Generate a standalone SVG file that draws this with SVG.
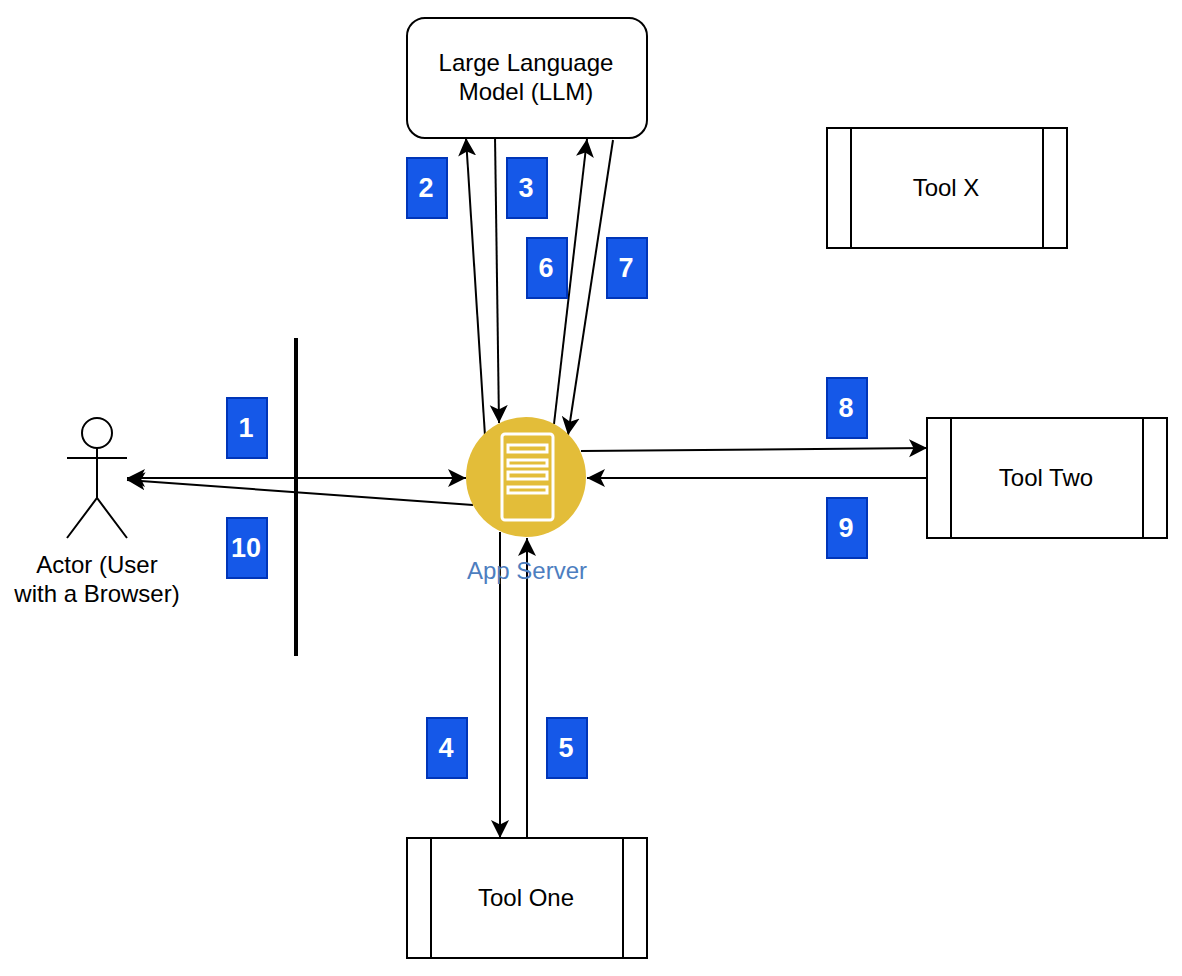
<svg xmlns="http://www.w3.org/2000/svg" width="1182" height="976" viewBox="0 0 1182 976">
<style>
text{font-family:"Liberation Sans",Arial,sans-serif;font-size:24px;fill:#000;text-anchor:middle}
.box{fill:#fff;stroke:#000;stroke-width:2}
.badge rect{fill:#1558e8;stroke:#0035b8;stroke-width:2}
.badge text{font-weight:bold;fill:#fff;font-size:27px}
.c{fill:none;stroke:#000;stroke-width:2;marker-end:url(#a)}
.s{fill:none;stroke:#000;stroke-width:2}
</style>
<defs>
<marker id="a" markerUnits="userSpaceOnUse" markerWidth="22" markerHeight="22" refX="18" refY="10" orient="auto">
<path d="M0 1 L18 10 L0 19 L4.500 10Z" fill="#000"/>
</marker>
</defs>
<rect width="1182" height="976" fill="#fff"/>
<g id="connectors">
<line x1="296" y1="338" x2="296" y2="656" stroke="#000" stroke-width="4"/>
<path class="c" d="M127 478H466"/>
<path class="c" d="M296 478H127"/>
<path class="c" d="M473 505L127 480"/>
<path class="c" d="M485 436L466 138"/>
<path class="c" d="M495 136L499 423"/>
<path class="c" d="M554 424L587 139"/>
<path class="c" d="M613 140L568 435"/>
<path class="c" d="M581 451L927 448"/>
<path class="c" d="M927 478H587"/>
<path class="c" d="M500 532V838"/>
<path class="c" d="M527 838V538"/>
</g>
<g id="llm"><rect class="box" x="407" y="18" width="240" height="120" rx="18"/><text x="526" y="71">Large Language</text><text x="526" y="100">Model (LLM)</text></g>
<g id="toolx"><rect class="box" x="827" y="128" width="240" height="120"/><path class="s" d="M851 128V248M1043 128V248"/><text x="946" y="196">Tool X</text></g>
<g id="tooltwo"><rect class="box" x="927" y="418" width="240" height="120"/><path class="s" d="M951 418V538M1143 418V538"/><text x="1046" y="486">Tool Two</text></g>
<g id="toolone"><rect class="box" x="407" y="838" width="240" height="120"/><path class="s" d="M431 838V958M623 838V958"/><text x="526" y="906">Tool One</text></g>
<g id="actor">
<circle cx="97" cy="433" r="15" fill="#fff" stroke="#000" stroke-width="2"/>
<path d="M97 448V498M67 458H127M67 538L97 498L127 538" fill="none" stroke="#000" stroke-width="2"/>
</g>
<g id="actor-label"><text x="97" y="573">Actor (User</text><text x="97" y="602">with a Browser)</text></g>
<g id="appserver">
<circle cx="526" cy="477" r="60" fill="#e3bd39"/>
<rect x="502" y="434" width="51" height="86" rx="3" fill="none" stroke="#fff" stroke-width="3"/>
<g fill="#e3bd39" stroke="#fff" stroke-width="3">
<rect x="508" y="445" width="39" height="7"/>
<rect x="508" y="460" width="39" height="6"/>
<rect x="508" y="472" width="39" height="7"/>
<rect x="508" y="487" width="39" height="6"/>
</g>
<text x="527" y="579" style="fill:#4d7ebf">App Server</text>
</g>
<g class="badge" id="b1"><rect x="227" y="398" width="40" height="60"/><text x="246" y="437">1</text></g>
<g class="badge" id="b2"><rect x="407" y="158" width="40" height="60"/><text x="426" y="197">2</text></g>
<g class="badge" id="b3"><rect x="507" y="158" width="40" height="60"/><text x="526" y="197">3</text></g>
<g class="badge" id="b4"><rect x="427" y="718" width="40" height="60"/><text x="446" y="757">4</text></g>
<g class="badge" id="b5"><rect x="547" y="718" width="40" height="60"/><text x="566" y="757">5</text></g>
<g class="badge" id="b6"><rect x="527" y="238" width="40" height="60"/><text x="546" y="277">6</text></g>
<g class="badge" id="b7"><rect x="607" y="238" width="40" height="60"/><text x="626" y="277">7</text></g>
<g class="badge" id="b8"><rect x="827" y="378" width="40" height="60"/><text x="846" y="417">8</text></g>
<g class="badge" id="b9"><rect x="827" y="498" width="40" height="60"/><text x="846" y="537">9</text></g>
<g class="badge" id="b10"><rect x="227" y="518" width="40" height="60"/><text x="246" y="557">10</text></g>
</svg>
